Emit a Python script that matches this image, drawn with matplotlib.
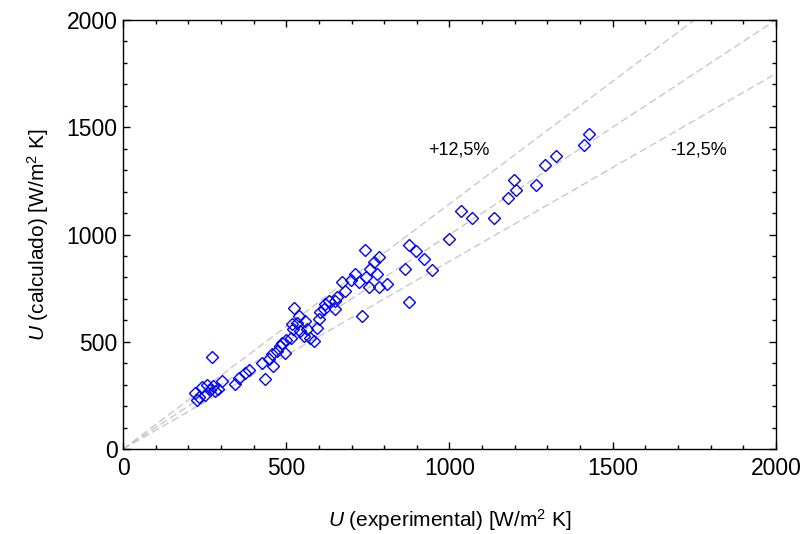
import matplotlib
matplotlib.use('Agg')
import matplotlib.pyplot as plt
import numpy as np

plt.rcParams['font.family'] = ['Liberation Sans', 'DejaVu Sans']
plt.rcParams['mathtext.fontset'] = 'custom'
plt.rcParams['mathtext.rm'] = 'Liberation Sans'
plt.rcParams['mathtext.it'] = 'Liberation Sans:italic'

# U experimental vs U calculado [W/m2 K]
u_exp = [221, 226, 233, 241, 252, 257, 265, 277, 282, 274, 292, 303, 344, 354,
         374, 385, 426, 436, 446, 461, 456, 471, 481, 487, 497, 500, 515,
         525, 538, 533, 556, 519, 522, 542, 563, 553, 574, 584, 594, 599, 605,
         615, 620, 630, 650, 650, 655, 671, 681, 697, 712, 722, 743, 753, 733,
         742, 783, 768, 758, 778, 808, 783, 875, 899, 922, 863, 947, 875, 998,
         1034, 1069, 1136, 1179, 1199, 1204, 1264, 1294, 1325, 1412, 1429]
u_calc = [261, 230, 245, 290, 253, 300, 275, 292, 269, 429, 282, 316, 305, 331,
          355, 368, 402, 327, 418, 386, 441, 457, 480, 496, 449, 510, 520,
          660, 621, 590, 598, 582, 558, 550, 558, 527, 519, 505, 566, 605, 637,
          652, 676, 692, 692, 652, 707, 777, 738, 786, 817, 777, 801, 754, 621,
          930, 895, 871, 840, 817, 770, 755, 950, 922, 888, 840, 836, 687, 978,
          1111, 1075, 1078, 1169, 1252, 1208, 1231, 1325, 1368, 1417, 1471]

dev = 0.125
x_line = np.array([0, 2000])

fig = plt.figure(figsize=(8.04, 5.34), dpi=100)
ax = fig.add_axes([0.153, 0.159, 0.812, 0.8035])

# linhas de referencia: y = x e +/-12,5%
dash = dict(color='#c4c4c4', lw=0.9, ls=(0, (6, 3)), zorder=1)
ax.plot(x_line, x_line, **dash)
ax.plot(x_line, x_line / (1 - dev), **dash)
ax.plot(x_line, x_line * (1 - dev), **dash)

ax.plot(u_exp, u_calc, ls='none', marker='D', markersize=6.3,
        mfc='none', mec='#0000ff', mew=1.0, zorder=3)

ax.text(1028, 1394, '+12,5%', fontsize=13, ha='center', va='center')
ax.text(1764, 1394, '-12,5%', fontsize=13, ha='center', va='center')

ax.set_xlim(0, 2000)
ax.set_ylim(0, 2000)
ax.set_xticks(range(0, 2001, 500))
ax.set_yticks(range(0, 2001, 500))
ax.set_xticks(range(0, 2001, 100), minor=True)
ax.set_yticks(range(0, 2001, 100), minor=True)
ax.tick_params(which='both', direction='in', top=True, right=True,
               labelsize=16.5, width=1)
ax.tick_params(which='major', length=5)
ax.tick_params(which='minor', length=3)
ax.tick_params(axis='x', which='major', pad=6)
ax.tick_params(axis='y', which='major', pad=4)
for s in ax.spines.values():
    s.set_linewidth(1)

ax.set_xlabel(r'$\it{U}$ (experimental) [W/m$^2$ K]', fontsize=15, labelpad=19)
ax.set_ylabel(r'$\it{U}$ (calculado) [W/m$^2$ K]', fontsize=15, labelpad=11)

fig.savefig('out.png', dpi=100)
